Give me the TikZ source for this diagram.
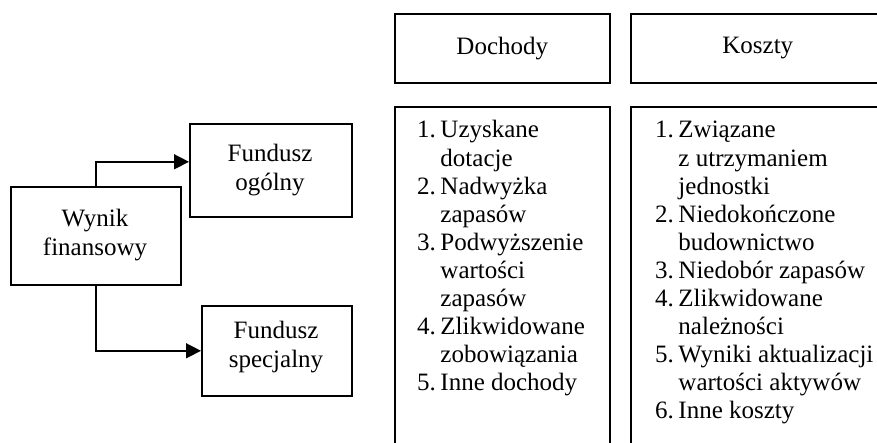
\documentclass[tikz,border=0pt]{standalone}
\usepackage{fontspec}
\setmainfont{Liberation Serif}
\usetikzlibrary{arrows.meta}
\begin{document}
\begin{tikzpicture}[x=1pt,y=-1pt,
  boxed/.style={draw,line width=1.6pt,inner sep=0pt,anchor=north west},
  lbl/.style={font=\fontsize{25}{28.1}\selectfont,align=center,inner sep=0pt},
  conn/.style={line width=1.5pt,-{Triangle[length=15pt,width=15pt]}},
  txt/.style={font=\fontsize{25}{28.1}\selectfont,inner sep=0pt,anchor=base west}
]
\useasboundingbox (0,0) rectangle (877,443);
\clip (0,0) rectangle (877,443);
% left part
\node[boxed,minimum width=170pt,minimum height=98pt] (wynik) at (10,186) {};
\node[lbl] (wynikt) at (95,235) {Wynik\\finansowy};
\node[boxed,minimum width=162pt,minimum height=93pt] (fog) at (189,123) {};
\node[lbl] (fogt) at (270,170) {Fundusz\\ogólny};
\node[boxed,minimum width=150pt,minimum height=90pt] (fsp) at (201,305) {};
\node[lbl] (fspt) at (276,347) {Fundusz\\specjalny};
\draw[conn] (wynik.north) |- ([yshift=8.5pt]fog.west);
\draw[conn] (wynik.south) |- (fsp.west);
% headers
\node[boxed,minimum width=215pt,minimum height=69pt] (doch) at (394,13) {};
\node[lbl] (docht) at (doch.center) {Dochody};
\node[boxed,minimum width=254pt,minimum height=69pt] (kosz) at (630,13) {};
\node[lbl] (koszt) at (kosz.center) {Koszty};
% list boxes
\node[boxed,minimum width=215pt,minimum height=360pt] (dlist) at (394,106) {};
\node[boxed,minimum width=254pt,minimum height=360pt] (klist) at (630,106) {};
\node[txt] (dtext) at (417,138) {\begin{tabular}[t]{@{}l@{\hspace{4.5pt}}l@{}}
1.&Uzyskane\\
  &dotacje\\
2.&Nadwyżka\\
  &zapasów\\
3.&Podwyższenie\\
  &wartości\\
  &zapasów\\
4.&Zlikwidowane\\
  &zobowiązania\\
5.&Inne dochody
\end{tabular}};
\node[txt] (ktext) at (655,138) {\begin{tabular}[t]{@{}l@{\hspace{4.5pt}}l@{}}
1.&Związane\\
  &z utrzymaniem\\
  &jednostki\\
2.&Niedokończone\\
  &budownictwo\\
3.&Niedobór zapasów\\
4.&Zlikwidowane\\
  &należności\\
5.&Wyniki aktualizacji\\
  &wartości aktywów\\
6.&Inne koszty
\end{tabular}};
\end{tikzpicture}
\end{document}
